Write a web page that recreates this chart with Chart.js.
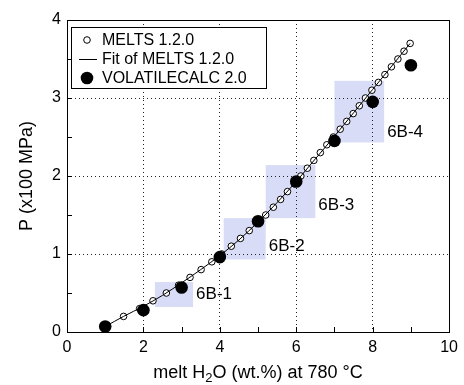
<!DOCTYPE html>
<html>
<head>
<meta charset="utf-8">
<script src="https://cdn.jsdelivr.net/npm/chart.js@4.4.0/dist/chart.umd.min.js"></script>
<style>
  body { margin: 0; background: #fff; }
  #wrap { width: 464px; height: 385px; }
</style>
</head>
<body>
<div id="wrap"><canvas id="chart" width="464" height="385"></canvas></div>
<script>
// MELTS 1.2.0 saturation points (open circles), every 10 MPa
const meltsP = [0.2, 0.3, 0.4, 0.5, 0.6, 0.7, 0.8, 0.9, 1.0, 1.1, 1.2, 1.3, 1.4, 1.5, 1.6, 1.7, 1.8, 1.9,
                2.0, 2.1, 2.2, 2.3, 2.4, 2.5, 2.6, 2.7, 2.8, 2.9, 3.0, 3.1, 3.2, 3.3, 3.4, 3.5, 3.6, 3.7];
const meltsH2O = [1.48, 1.90, 2.25, 2.60, 2.92, 3.22, 3.51, 3.79, 4.05, 4.30, 4.54, 4.77, 4.99, 5.20, 5.40, 5.59, 5.77, 5.95,
                  6.12, 6.29, 6.46, 6.63, 6.80, 6.97, 7.15, 7.32, 7.49, 7.65, 7.81, 7.98, 8.15, 8.32, 8.49, 8.66, 8.82, 8.98];

// fit of MELTS (solid line)
const fitH2O = [1.0, 1.48, 2.0, 2.5, 3.0, 3.5, 4.0, 4.5, 5.0, 5.5, 6.0, 6.5, 7.0, 7.5, 8.0, 8.5, 8.98];
const fitP   = [0.07, 0.20, 0.33, 0.47, 0.63, 0.80, 0.98, 1.18, 1.41, 1.66, 1.93, 2.22, 2.51, 2.81, 3.11, 3.41, 3.70];

// VOLATILECALC 2.0 (filled circles)
const volH2O = [1, 2, 3, 4, 5, 6, 7, 8, 9];
const volP   = [0.07, 0.28, 0.57, 0.96, 1.42, 1.93, 2.45, 2.95, 3.42];

// sample boxes
const boxLabels = ['6B-1', '6B-2', '6B-3', '6B-4'];
const boxH2OMin = [2.3, 4.1, 5.2, 7.0];
const boxH2OMax = [3.3, 5.2, 6.5, 8.3];
const boxPMin   = [0.32, 0.93, 1.46, 2.43];
const boxPMax   = [0.64, 1.46, 2.14, 3.22];
const labelP    = [0.48, 1.10, 1.63, 2.56];

const xTicks = [0, 2, 4, 6, 8, 10];
const yTicks = [0, 1, 2, 3, 4];

const FONT = '"Liberation Sans", Arial, Helvetica, sans-serif';

function pts(xs, ys) {
  return xs.map((x, i) => ({ x: x, y: ys[i] }));
}

// boxes + labels, under the grid
const boxPlugin = {
  id: 'boxes',
  beforeDraw(chart) {
    const ctx = chart.ctx, xs = chart.scales.x, ys = chart.scales.y;
    ctx.save();
    ctx.fillStyle = '#d8dcf6';
    boxLabels.forEach((lab, i) => {
      const x0 = xs.getPixelForValue(boxH2OMin[i]), x1 = xs.getPixelForValue(boxH2OMax[i]);
      const y0 = ys.getPixelForValue(boxPMax[i]), y1 = ys.getPixelForValue(boxPMin[i]);
      ctx.fillRect(x0, y0, x1 - x0, y1 - y0);
    });
    ctx.fillStyle = '#000';
    ctx.font = '17px ' + FONT;
    ctx.textAlign = 'left';
    ctx.textBaseline = 'middle';
    boxLabels.forEach((lab, i) => {
      ctx.fillText(lab, xs.getPixelForValue(boxH2OMax[i]) + 3, ys.getPixelForValue(labelP[i]));
    });
    ctx.restore();
  }
};

// frame, inward ticks, axis titles, legend
const framePlugin = {
  id: 'frame',
  afterDraw(chart) {
    const ctx = chart.ctx, a = chart.chartArea, xs = chart.scales.x, ys = chart.scales.y;
    ctx.save();
    ctx.strokeStyle = '#000';
    ctx.lineWidth = 1;
    ctx.setLineDash([]);
    ctx.beginPath();
    for (let v = 1; v < 10; v++) {
      const px = Math.round(xs.getPixelForValue(v)) + 0.5;
      ctx.moveTo(px, a.bottom);
      ctx.lineTo(px, a.bottom - 5);
    }
    for (let v = 0.5; v < 4; v += 0.5) {
      const py = Math.round(ys.getPixelForValue(v)) + 0.5;
      ctx.moveTo(a.left, py);
      ctx.lineTo(a.left + 5, py);
    }
    ctx.stroke();
    ctx.strokeRect(Math.round(a.left) + 0.5, Math.round(a.top) + 0.5,
                   Math.round(a.right - a.left), Math.round(a.bottom - a.top));

    // axis titles
    ctx.fillStyle = '#000';
    ctx.font = '18px ' + FONT;
    ctx.textBaseline = 'alphabetic';
    const p1 = 'melt H', p2 = '2', p3 = 'O (wt.%) at 780 \u00B0C';
    const w1 = ctx.measureText(p1).width, w3 = ctx.measureText(p3).width;
    ctx.font = '13px ' + FONT;
    const w2 = ctx.measureText(p2).width;
    let tx = (a.left + a.right) / 2 - (w1 + w2 + w3) / 2;
    const ty = 378;
    ctx.font = '18px ' + FONT;
    ctx.textAlign = 'left';
    ctx.fillText(p1, tx, ty);
    ctx.font = '13px ' + FONT;
    ctx.fillText(p2, tx + w1, ty + 4);
    ctx.font = '18px ' + FONT;
    ctx.fillText(p3, tx + w1 + w2, ty);

    ctx.save();
    ctx.translate(27, (a.top + a.bottom) / 2);
    ctx.rotate(-Math.PI / 2);
    ctx.textAlign = 'center';
    ctx.textBaseline = 'middle';
    ctx.fillText('P (x100 MPa)', 0, 0);
    ctx.restore();

    // legend
    const lx = 71.5, ly = 27.5, lw = 195, lh = 61;
    ctx.fillStyle = '#fff';
    ctx.fillRect(lx, ly, lw, lh);
    ctx.strokeRect(lx, ly, lw, lh);
    const ds = chart.data.datasets;
    const rows = [40, 59, 78];
    ctx.font = '16px ' + FONT;
    ctx.textAlign = 'left';
    ctx.textBaseline = 'middle';
    ds.forEach((d, i) => {
      const cy = rows[i];
      ctx.beginPath();
      if (i === 0) {
        ctx.arc(87, cy, 3.3, 0, Math.PI * 2);
        ctx.fillStyle = '#fff';
        ctx.fill();
        ctx.stroke();
      } else if (i === 1) {
        ctx.moveTo(79, cy + 0.5);
        ctx.lineTo(97, cy + 0.5);
        ctx.stroke();
      } else {
        ctx.arc(87, cy, 6.3, 0, Math.PI * 2);
        ctx.fillStyle = '#000';
        ctx.fill();
      }
      ctx.fillStyle = '#000';
      ctx.fillText(d.label, 102, cy + 1);
    });
    ctx.restore();
  }
};

new Chart(document.getElementById('chart'), {
  type: 'scatter',
  data: {
    datasets: [
      {
        label: 'MELTS 1.2.0',
        data: pts(meltsH2O, meltsP),
        pointStyle: 'circle',
        pointRadius: 3.3,
        pointBackgroundColor: '#fff',
        pointBorderColor: '#000',
        pointBorderWidth: 1,
        order: 3
      },
      {
        label: 'Fit of MELTS 1.2.0',
        data: pts(fitH2O, fitP),
        showLine: true,
        pointRadius: 0,
        borderColor: '#000',
        borderWidth: 1,
        cubicInterpolationMode: 'monotone',
        order: 2
      },
      {
        label: 'VOLATILECALC 2.0',
        data: pts(volH2O, volP),
        pointStyle: 'circle',
        pointRadius: 6.3,
        pointBackgroundColor: '#000',
        pointBorderColor: '#000',
        pointBorderWidth: 0,
        order: 1
      }
    ]
  },
  options: {
    responsive: false,
    animation: false,
    layout: { padding: { top: 20, right: 14, left: 0, bottom: 0 } },
    plugins: {
      legend: { display: false },
      tooltip: { enabled: false }
    },
    scales: {
      x: {
        type: 'linear',
        min: 0, max: 10,
        afterBuildTicks: (s) => { s.ticks = xTicks.map(v => ({ value: v })); },
        afterFit: (s) => { s.height = 53; },
        ticks: { color: '#000', font: { size: 16, family: FONT }, padding: 6, maxRotation: 0 },
        grid: {
          drawTicks: false,
          color: (c) => (c.tick && (c.tick.value === 0 || c.tick.value === 10)) ? 'rgba(0,0,0,0)' : '#222',
          lineWidth: 1
        },
        border: { display: false, dash: [1, 3] }
      },
      y: {
        type: 'linear',
        min: 0, max: 4,
        afterBuildTicks: (s) => { s.ticks = yTicks.map(v => ({ value: v })); },
        afterFit: (s) => { s.width = 67; },
        ticks: { color: '#000', font: { size: 16, family: FONT }, padding: 6 },
        grid: {
          drawTicks: false,
          color: (c) => (c.tick && (c.tick.value === 0 || c.tick.value === 4)) ? 'rgba(0,0,0,0)' : '#222',
          lineWidth: 1
        },
        border: { display: false, dash: [1, 3] }
      }
    }
  },
  plugins: [boxPlugin, framePlugin]
});
</script>
</body>
</html>
